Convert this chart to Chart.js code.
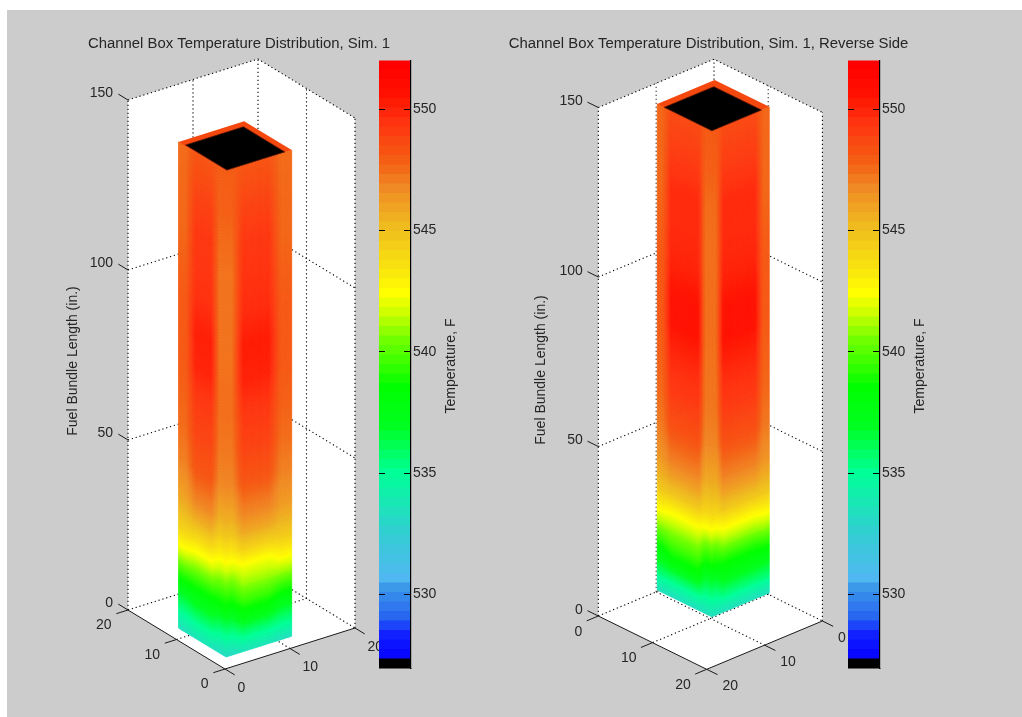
<!DOCTYPE html>
<html>
<head>
<meta charset="utf-8">
<title>Channel Box Temperature Distribution</title>
<script src="https://cdn.jsdelivr.net/npm/chart.js@4"></script>
<style>
html, body { margin: 0; padding: 0; background: #fff; overflow: hidden; }
#figure { position: absolute; left: 7px; top: 10px; width: 1015px; height: 707px; background: #cccccc; }
canvas { position: absolute; filter: blur(0.45px); }
</style>
</head>
<body>
<div id="figure"></div>
<canvas id="box-left" width="358" height="680" style="left:60px;top:30px"></canvas>
<canvas id="box-right" width="417" height="680" style="left:500px;top:30px"></canvas>
<canvas id="bar-left" width="100" height="630" style="left:369px;top:50px"></canvas>
<canvas id="bar-right" width="100" height="630" style="left:838px;top:50px"></canvas>
<script>
// heights along the channel (in.) shared by every temperature column
const heights = [0, 5, 10, 15, 20, 25, 30, 35, 40, 50, 60, 70, 80, 90, 100, 110, 120, 130, 143]

// first simulation view, temperatures in F
const simEdgeA = [533.4, 535, 536.6, 538.6, 540.6, 542.6, 544.2, 545.2, 546, 547, 547.5, 547.8, 548, 548, 548, 547.8, 547.6, 547.6, 547.5]
const simFaceA = [533.6, 535.2, 537, 538.6, 540.4, 542.2, 544, 545.6, 546.8, 548.2, 548.8, 549.2, 550, 550.2, 549.6, 549.4, 549.3, 548.9, 548.2]
const simCornerA = [533.2, 534.8, 536.5, 538.5, 540, 541.6, 543.2, 544.6, 545.6, 546.8, 547.2, 547.4, 547.4, 547.3, 547.3, 547.3, 547.5, 547.8, 547.9]
const simFaceB = [533.6, 535.4, 537.7, 539.5, 541, 542.2, 544.2, 545.8, 546.8, 548.2, 548.9, 549.3, 550.1, 550.3, 549.7, 549.5, 549.3, 548.9, 548.2]
const simEdgeB = [533.4, 535.2, 537, 539, 541, 542.8, 544.4, 545.4, 546.2, 547, 547.5, 547.8, 548, 548, 548, 547.8, 547.6, 547.6, 547.5]

// reverse side view
const revEdgeA = [533.4, 535.4, 537.4, 539.2, 541, 542.8, 544.6, 545.6, 546.4, 547.2, 547.6, 547.8, 548, 548, 548, 547.8, 547.6, 547.6, 547.6]
const revFaceA = [533.4, 535.4, 538, 539.6, 541, 542.6, 544.6, 546, 547, 548.4, 549.2, 549.8, 550.6, 550.6, 550, 549.8, 549.8, 549.2, 548.6]
const revCorner = [533.4, 535, 536.6, 538.6, 540.2, 542.2, 544, 545, 545.8, 546.8, 547.2, 547.3, 547.4, 547.4, 547.4, 547.4, 547.5, 547.8, 548]
const revFaceB = [533.4, 535.4, 537.4, 538.8, 540.8, 542.6, 544.6, 546, 547, 548.4, 549.2, 549.8, 550.6, 550.6, 550, 549.8, 549.8, 549.2, 548.6]
const revEdgeB = [533.4, 535.4, 537.2, 539, 541, 542.8, 544.6, 545.6, 546.4, 547.2, 547.6, 547.8, 548, 548, 548, 547.8, 547.6, 547.6, 547.6]

const zTicks = [0, 50, 100, 150]
const xyTicks = [0, 10, 20]
const colorTicks = [530, 535, 540, 545, 550]
const colorMin = 526.95
const colorMax = 552.01
const colorLevels = 64

const titleLeft = 'Channel Box Temperature Distribution, Sim. 1'
const titleRight = 'Channel Box Temperature Distribution, Sim. 1, Reverse Side'
const zLabel = 'Fuel Bundle Length (in.)'
const colorLabel = 'Temperature, F'

const textColor = '#262626'
const fontFamily = '"Liberation Sans", Arial, sans-serif'
const titleSize = 14.9
const labelSize = 14
const tickSize = 14

// anchors of the figure's colormap, level index -> colour
const colorStops = [[0, '#000000'], [1, '#0808ff'], [3, '#1020ff'], [5, '#2868f0'], [8, '#3c98e8'], [9, '#50b8f0'],
    [14, '#30d0d0'], [17, '#18e8b4'], [20, '#00ff98'], [25, '#00ff20'], [29, '#00ff00'], [34, '#70ff00'], [37, '#d0ff00'],
    [39, '#ffff00'], [42, '#f8e010'], [46, '#efbb1f'], [50, '#f08a24'], [53, '#f55c14'], [57, '#ff3310'], [60, '#ff1000'], [63, '#ff0000']]

function hexToRgb(hex) {
    return [1, 3, 5].map(i => parseInt(hex.substr(i, 2), 16))
}

function buildColormap() {
    let out = []
    for (let i = 0; i < colorLevels; i++) {
        let k = 0
        while (k < colorStops.length - 2 && colorStops[k + 1][0] <= i) k++
        const a = colorStops[k]
        const b = colorStops[k + 1]
        const f = (i - a[0]) / (b[0] - a[0])
        const ca = hexToRgb(a[1])
        const cb = hexToRgb(b[1])
        out.push(ca.map((c, n) => Math.round(c + (cb[n] - c) * f)))
    }
    return out
}
const colormap = buildColormap()

function rgbString(c) {
    return 'rgb(' + c.map(Math.round).join(',') + ')'
}

function tempColor(t) {
    let pos = (t - colorMin) / (colorMax - colorMin) * colorLevels - 0.5
    pos = Math.max(1, Math.min(colorLevels - 1.001, pos))
    const i = Math.floor(pos)
    const f = pos - i
    return rgbString(colormap[i].map((c, n) => c + (colormap[i + 1][n] - c) * f))
}

// camera of each view: where (0,0,0) lands and what one unit of each axis does on the page
const viewLeft = {
    canvas: 'box-left', left: 60, top: 30, width: 358, height: 680, title: titleLeft,
    ox: 225, oy: 669, ux: -4.85, uy: -2.95, vx: 6.5, vy: -2.05, zs: 3.4,
    cornerL: [20, 0], cornerR: [0, 20], front: [0, 0], back: [20, 20],
    span: { u0: 2.6, u1: 12.4, v0: 2.1, v1: 12.2, top: 143 },
    hole: { u0: 2.7, u1: 11.2, v0: 2.3, v1: 11.2 },
    columnsA: [simEdgeA, simEdgeA, simFaceA, simFaceA, simCornerA, simCornerA], fracA: [0, 0.16, 0.36, 0.7, 0.86, 1],
    columnsB: [simCornerA, simCornerA, simFaceB, simFaceB, simEdgeB, simEdgeB], fracB: [0, 0.1, 0.26, 0.66, 0.84, 1],
    zLabelAt: [73, 361],
    zOff: [-15, -7], leftOff: [-16.5, 15.5], rightOff: [12.5, 19]
}
const viewRight = {
    canvas: 'box-right', left: 500, top: 30, width: 417, height: 680, title: titleRight,
    ox: 714, oy: 567.7, ux: 5.42, uy: 2.665, vx: -5.785, vy: 2.415, zs: 3.39,
    cornerL: [0, 20], cornerR: [20, 0], front: [20, 20], back: [0, 0],
    span: { u0: -0.28, u1: 9.8, v0: -0.37, v1: 9.55, top: 143.4 },
    hole: { u0: 1.02, u1: 9.8, v0: 0.98, v1: 9.55 },
    columnsA: [revEdgeA, revEdgeA, revFaceA, revFaceA, revCorner, revCorner], fracA: [0, 0.1, 0.26, 0.76, 0.88, 1],
    columnsB: [revCorner, revCorner, revFaceB, revFaceB, revEdgeB, revEdgeB], fracB: [0, 0.08, 0.2, 0.76, 0.9, 1],
    zLabelAt: [541, 370],
    zOff: [-15.5, -6], leftOff: [-16, 15.7], rightOff: [15.7, 17]
}

function project(view, u, v, z) {
    return {
        x: view.ox + u * view.ux + v * view.vx,
        y: view.oy + u * view.uy + v * view.vy - z * view.zs
    }
}

function polygon(points, color, border) {
    return {
        data: points.concat([points[0]]),
        showLine: true,
        fill: 'shape',
        backgroundColor: color,
        borderColor: border || color,
        borderWidth: border ? 0.8 : 0,
        pointRadius: 0
    }
}

function segment(points, dotted) {
    return {
        data: points,
        showLine: true,
        fill: false,
        borderColor: dotted ? '#000' : '#1a1a1a',
        borderWidth: dotted ? 1.1 : 1,
        borderDash: dotted ? [1.2, 2.8] : [],
        pointRadius: 0
    }
}

// one visible face of the channel: the read temperatures are its mesh vertices
function faceMesh(view, from, to, columns, fracs) {
    let data = []
    heights.forEach((h, row) => {
        const z = h / heights[heights.length - 1] * view.span.top
        columns.forEach((col, c) => {
            const u = from[0] + (to[0] - from[0]) * fracs[c]
            const v = from[1] + (to[1] - from[1]) * fracs[c]
            data.push(Object.assign(project(view, u, v, z), { t: col[row] }))
        })
    })
    return { data: data, meshCols: columns.length, showLine: false, pointRadius: 0 }
}

function buildBoxDatasets(view) {
    const p = (u, v, z) => project(view, u, v, z)
    const L = view.cornerL, R = view.cornerR, F = view.front, B = view.back
    const mid = (a, b) => [(a[0] + b[0]) / 2, (a[1] + b[1]) / 2]
    const topZ = zTicks[zTicks.length - 1]
    let sets = []

    // white walls and floor
    sets.push(polygon([p(L[0], L[1], 0), p(B[0], B[1], 0), p(B[0], B[1], topZ), p(L[0], L[1], topZ)], '#ffffff'))
    sets.push(polygon([p(B[0], B[1], 0), p(R[0], R[1], 0), p(R[0], R[1], topZ), p(B[0], B[1], topZ)], '#ffffff'))
    sets.push(polygon([p(L[0], L[1], 0), p(B[0], B[1], 0), p(R[0], R[1], 0), p(F[0], F[1], 0)], '#ffffff'))

    // dotted grid on the walls
    zTicks.forEach(z => {
        sets.push(segment([p(L[0], L[1], z), p(B[0], B[1], z), p(R[0], R[1], z)], true))
    })
    const verticals = [L, mid(L, B), B, mid(B, R), R]
    verticals.forEach(c => {
        sets.push(segment([p(c[0], c[1], 0), p(c[0], c[1], topZ)], true))
    })
    // dotted grid on the floor
    sets.push(segment([p(10, 0, 0), p(10, 20, 0)], true))
    sets.push(segment([p(0, 10, 0), p(20, 10, 0)], true))

    // solid front axes and their ticks
    sets.push(segment([p(L[0], L[1], 0), p(F[0], F[1], 0), p(R[0], R[1], 0)], false))
    const outU = L[0] === 20 ? 22 : -2
    zTicks.forEach(z => {
        sets.push(segment([p(L[0], L[1], z), p(outU, L[1], z)], false))
    })
    const outV = L[1] === 20 ? 22 : -1.8
    const outFrontU = R[0] === 20 ? 22 : -2
    xyTicks.forEach(t => {
        sets.push(segment([p(t, L[1], 0), p(t, outV, 0)], false))
        sets.push(segment([p(R[0], t, 0), p(outFrontU, t, 0)], false))
    })

    // channel: two shaded faces, then the open top
    const s = view.span
    const h = view.hole
    const corner = (c, r) => [c[0] === 0 ? r.u0 : r.u1, c[1] === 0 ? r.v0 : r.v1]
    const cF = corner(F, s), cL = corner(L, s), cR = corner(R, s), cB = corner(B, s)
    sets.push(faceMesh(view, cL, cF, view.columnsA, view.fracA))
    sets.push(faceMesh(view, cF, cR, view.columnsB, view.fracB))
    sets.push(polygon([p(cL[0], cL[1], s.top), p(cB[0], cB[1], s.top), p(cR[0], cR[1], s.top), p(cF[0], cF[1], s.top)], '#f5480f'))
    const hF = corner(F, h), hL = corner(L, h), hR = corner(R, h), hB = corner(B, h)
    sets.push(polygon([p(hL[0], hL[1], s.top), p(hB[0], hB[1], s.top), p(hR[0], hR[1], s.top), p(hF[0], hF[1], s.top)], '#000000', '#5a1505'))

    // first dataset is drawn last by Chart.js
    return sets.reverse()
}

// interpolated shading between the mesh vertices, mapped through the colormap like shading interp
const meshPlugin = {
    id: 'meshShading',
    afterDatasetDraw(chart, args) {
        const ds = chart.data.datasets[args.index]
        if (!ds.meshCols) return
        const ctx = chart.ctx
        const sx = chart.scales.x
        const sy = chart.scales.y
        const cols = ds.meshCols
        const rows = ds.data.length / cols
        const at = (r, c) => {
            const d = ds.data[r * cols + c]
            return { x: sx.getPixelForValue(d.x), y: sy.getPixelForValue(d.y), t: d.t }
        }
        const mix = (a, b, f) => ({ x: a.x + (b.x - a.x) * f, y: a.y + (b.y - a.y) * f, t: a.t + (b.t - a.t) * f })
        ctx.save()
        ctx.lineWidth = 0.7
        for (let r = 0; r < rows - 1; r++) {
            for (let c = 0; c < cols - 1; c++) {
                const a = at(r, c), b = at(r, c + 1), d = at(r + 1, c), e = at(r + 1, c + 1)
                const ny = Math.max(1, Math.ceil(Math.abs(d.y - a.y) / 1.5))
                const nx = Math.max(1, Math.ceil(Math.abs(b.x - a.x) / 2))
                for (let j = ny - 1; j >= 0; j--) {
                    const l0 = mix(a, d, j / ny), l1 = mix(a, d, (j + 1) / ny)
                    const r0 = mix(b, e, j / ny), r1 = mix(b, e, (j + 1) / ny)
                    for (let i = 0; i < nx; i++) {
                        const q0 = mix(l0, r0, i / nx), q1 = mix(l0, r0, (i + 1) / nx)
                        const q2 = mix(l1, r1, (i + 1) / nx), q3 = mix(l1, r1, i / nx)
                        const col = tempColor((q0.t + q1.t + q2.t + q3.t) / 4)
                        ctx.fillStyle = col
                        ctx.strokeStyle = col
                        ctx.beginPath()
                        ctx.moveTo(q0.x, q0.y)
                        ctx.lineTo(q1.x, q1.y)
                        ctx.lineTo(q2.x, q2.y)
                        ctx.lineTo(q3.x, q3.y)
                        ctx.closePath()
                        ctx.fill()
                        ctx.stroke()
                    }
                }
            }
        }
        ctx.restore()
    }
}

function drawText(ctx, text, x, y, align, size, rotate) {
    ctx.save()
    ctx.translate(x, y)
    if (rotate) ctx.rotate(-Math.PI / 2)
    ctx.font = size + 'px ' + fontFamily
    ctx.fillStyle = textColor
    ctx.textAlign = align
    ctx.textBaseline = 'middle'
    ctx.fillText(text, 0, 0)
    ctx.restore()
}

function boxLabels(view) {
    return {
        id: 'boxLabels',
        afterDraw(chart) {
            const ctx = chart.ctx
            const sx = chart.scales.x
            const sy = chart.scales.y
            const put = (pos, off, text, align) => {
                drawText(ctx, text, sx.getPixelForValue(pos.x) + off[0], sy.getPixelForValue(pos.y) + off[1], align, tickSize)
            }
            zTicks.forEach(z => put(project(view, view.cornerL[0], view.cornerL[1], z), view.zOff, String(z), 'right'))
            xyTicks.forEach(t => {
                put(project(view, t, view.cornerL[1], 0), view.leftOff, String(t), 'right')
                put(project(view, view.cornerR[0], t, 0), view.rightOff, String(t), 'left')
            })
            drawText(ctx, zLabel, view.zLabelAt[0] - view.left, view.zLabelAt[1] - view.top, 'center', labelSize, true)
        }
    }
}

function boxChart(view) {
    const titleTop = 5
    const titleBottom = 2
    const titleBlock = titleTop + titleBottom + titleSize * 1.2
    new Chart(document.getElementById(view.canvas), {
        type: 'scatter',
        data: { datasets: buildBoxDatasets(view) },
        plugins: [meshPlugin, boxLabels(view)],
        options: {
            responsive: false,
            animation: false,
            events: [],
            layout: { padding: 0 },
            plugins: {
                legend: { display: false },
                tooltip: { enabled: false },
                title: {
                    display: true,
                    text: view.title,
                    color: textColor,
                    font: { family: fontFamily, size: titleSize, weight: 'normal', lineHeight: 1.2 },
                    padding: { top: titleTop, bottom: titleBottom }
                }
            },
            scales: {
                x: { display: false, min: view.left, max: view.left + view.width },
                y: { display: false, reverse: true, min: view.top + titleBlock, max: view.top + view.height }
            }
        }
    })
}

function colorBar(canvasId) {
    const step = (colorMax - colorMin) / colorLevels
    const bands = colormap.map((color, i) => ({
        data: [[colorMin + i * step, colorMin + (i + 1) * step]],
        backgroundColor: rgbString(color),
        borderWidth: 0,
        grouped: false,
        barPercentage: 1,
        categoryPercentage: 1
    }))
    new Chart(document.getElementById(canvasId), {
        type: 'bar',
        data: { labels: [''], datasets: bands },
        plugins: [{
            id: 'colorLabel',
            afterDraw(chart) {
                drawText(chart.ctx, colorLabel, 82, 316, 'center', labelSize, true)
            }
        }],
        options: {
            responsive: false,
            animation: false,
            events: [],
            layout: { padding: { left: 10, right: 0, top: 8.3, bottom: 11.7 } },
            plugins: { legend: { display: false }, tooltip: { enabled: false } },
            scales: {
                x: {
                    display: true,
                    ticks: { display: false },
                    grid: { drawOnChartArea: false, drawTicks: false },
                    border: { color: '#7a7a7a' }
                },
                y: {
                    position: 'right',
                    min: colorMin,
                    max: colorMax,
                    afterBuildTicks: scale => { scale.ticks = colorTicks.map(v => ({ value: v })) },
                    afterFit: scale => { scale.width = 58 },
                    ticks: {
                        color: textColor,
                        padding: 2,
                        font: { family: fontFamily, size: tickSize }
                    },
                    grid: { color: '#000', z: 1, drawTicks: false, tickLength: 0 },
                    border: { color: '#000', width: 1.2, dash: [6, 19, 6], z: 2 }
                }
            }
        }
    })
}

boxChart(viewLeft)
boxChart(viewRight)
colorBar('bar-left')
colorBar('bar-right')
</script>
</body>
</html>
